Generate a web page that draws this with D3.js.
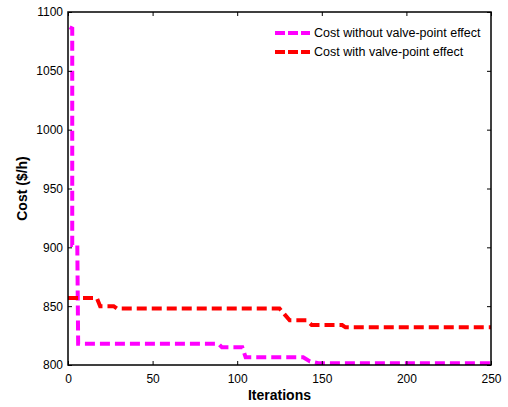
<!DOCTYPE html>
<html>
<head>
<meta charset="utf-8">
<script src="https://cdn.jsdelivr.net/npm/d3@7"></script>
<style>
  body { margin: 0; background: #fff; }
  text { font-family: "Liberation Sans", Arial, sans-serif; }
</style>
</head>
<body>
<div id="chart"></div>
<script>
// iterations / cost
const iterNoValve = [1, 2.5, 2.5, 5.5, 6, 89, 91, 103, 105, 139, 143, 148, 250];
const costNoValve = [1087, 1086, 902, 902, 818, 818, 815, 815, 806.5, 806.5, 803, 801.5, 801.5];
const iterValve = [0, 17, 19, 27, 29, 125, 128, 131, 141, 144, 162, 164, 250];
const costValve = [857, 857, 850, 850, 848, 848, 843, 838, 838, 834, 834, 832, 832];
const xTicks = [0, 50, 100, 150, 200, 250];
const yTicks = [800, 850, 900, 950, 1000, 1050, 1100];
const seriesNames = ["Cost without valve-point effect", "Cost with valve-point effect"];
const seriesColors = ["#ff00ff", "#ff0000"];

const margin = {top: 12, right: 17, bottom: 42, left: 68},
    width = 508 - margin.left - margin.right,
    height = 407 - margin.top - margin.bottom;

const svg = d3.select("#chart")
  .append("svg")
    .attr("width", width + margin.left + margin.right)
    .attr("height", height + margin.top + margin.bottom)
  .append("g")
    .attr("transform", `translate(${margin.left},${margin.top})`);

const x = d3.scaleLinear().domain([0, 250]).range([0, width]);
const y = d3.scaleLinear().domain([800, 1100]).range([height, 0]);

// clip so the thick lines stay in the box
svg.append("clipPath").attr("id", "clip")
  .append("rect").attr("width", width).attr("height", height);

const line = d3.line()
  .x(d => x(d[0]))
  .y(d => y(d[1]));

const series = [
  iterNoValve.map((v, i) => [v, costNoValve[i]]),
  iterValve.map((v, i) => [v, costValve[i]])
];

series.forEach((s, i) => {
  svg.append("path")
    .datum(s)
    .attr("clip-path", "url(#clip)")
    .attr("fill", "none")
    .attr("stroke", seriesColors[i])
    .attr("stroke-width", 4)
    .attr("stroke-dasharray", "10,5")
    .attr("d", line);
});

// axes, MATLAB style with inward ticks on all sides
const styleAxis = g => {
  g.select(".domain").remove();
  g.selectAll("text").style("font-size", "12px").attr("fill", "#000");
  g.selectAll("line").attr("stroke", "#000");
};

svg.append("g")
  .attr("transform", `translate(0,${height})`)
  .call(d3.axisBottom(x).tickValues(xTicks).tickFormat(d3.format("d")).tickSizeInner(-4).tickSizeOuter(0).tickPadding(9))
  .call(styleAxis);

svg.append("g")
  .call(d3.axisLeft(y).tickValues(yTicks).tickFormat(d3.format("d")).tickSizeInner(-4).tickSizeOuter(0).tickPadding(5))
  .call(styleAxis);

svg.append("g")
  .call(d3.axisTop(x).tickValues(xTicks).tickSizeInner(-4).tickSizeOuter(0).tickFormat(""))
  .call(styleAxis);

svg.append("g")
  .attr("transform", `translate(${width},0)`)
  .call(d3.axisRight(y).tickValues(yTicks).tickSizeInner(-4).tickSizeOuter(0).tickFormat(""))
  .call(styleAxis);

// box
svg.append("rect")
  .attr("width", width)
  .attr("height", height)
  .attr("fill", "none")
  .attr("stroke", "#000")
  .attr("stroke-width", 1.5);

// axis titles
svg.append("text")
  .attr("x", width / 2)
  .attr("y", height + 35)
  .attr("text-anchor", "middle")
  .style("font-size", "14px")
  .style("font-weight", "bold")
  .text("Iterations");

svg.append("text")
  .attr("transform", `translate(${27 - margin.left},${height / 2}) rotate(-90)`)
  .attr("text-anchor", "middle")
  .style("font-size", "14px")
  .style("font-weight", "bold")
  .text("Cost ($/h)");

// legend
const legend = svg.selectAll(".legend")
  .data(seriesNames)
  .join("g")
    .attr("class", "legend")
    .attr("transform", (d, i) => `translate(${275 - margin.left},${33 - margin.top + i * 19})`);

legend.append("line")
  .attr("x1", 0).attr("x2", 35)
  .attr("stroke", (d, i) => seriesColors[i])
  .attr("stroke-width", 4)
  .attr("stroke-dasharray", "10,3");

legend.append("text")
  .attr("x", 39)
  .attr("dy", "0.35em")
  .style("font-size", "12.5px")
  .text(d => d);
</script>
</body>
</html>
